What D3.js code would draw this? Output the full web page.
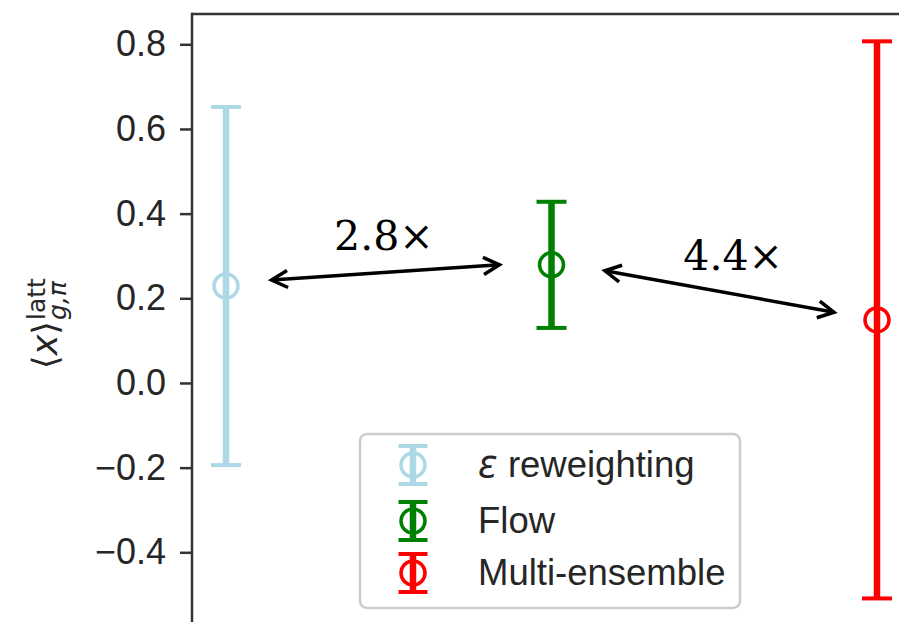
<!DOCTYPE html>
<html>
<head>
<meta charset="utf-8">
<script src="https://cdn.jsdelivr.net/npm/d3@7"></script>
<style>
  html, body { margin: 0; padding: 0; background: #fff; }
  svg { display: block; }
</style>
</head>
<body>
<svg id="chart" width="899" height="622"></svg>
<script>
// ---- data ----
const methods = ["ε reweighting", "Flow", "Multi-ensemble"];
const positions = [0, 1, 2];
const means = [0.229, 0.279, 0.149];
const errors = [0.423, 0.149, 0.658];
const colors = ["#add8e6", "#008000", "#ff0000"];
const yTicks = [-0.4, -0.2, 0.0, 0.2, 0.4, 0.6, 0.8];
// annotation arrows (data coords) and ratio labels
const arrowFrom = [[0.14, 0.243], [1.164, 0.265]];
const arrowTo = [[0.84, 0.279], [1.868, 0.167]];
const ratioLabels = ["2.8×", "4.4×"];
const ratioLabelPos = [[0.485, 0.314], [1.558, 0.267]];

const svg = d3.select("#chart");
const W = 899, H = 622;
const axLeft = 192, axTop = 14;

const x = d3.scaleLinear().domain([0, 2]).range([226, 877]);
const y = d3.scaleLinear().domain([-0.4, 0.8]).range([552.3, 44.3]);

// spines
svg.append("line").attr("x1", axLeft).attr("x2", W + 10).attr("y1", axTop).attr("y2", axTop)
  .attr("stroke", "#333").attr("stroke-width", 2.5);

// y axis
const yAxis = d3.axisLeft(y).tickValues(yTicks).tickFormat(d3.format(".1f"))
  .tickSize(12).tickPadding(14);
const gy = svg.append("g").attr("transform", `translate(${axLeft},0)`).call(yAxis);
gy.select(".domain").remove();
gy.selectAll(".tick line").attr("stroke", "#333").attr("stroke-width", 2.5);
gy.selectAll(".tick text").attr("fill", "#262626")
  .style("font-family", "'Liberation Sans', Arial, sans-serif").style("font-size", "36px");
svg.append("line").attr("x1", axLeft).attr("x2", axLeft).attr("y1", axTop - 1.25).attr("y2", H + 10)
  .attr("stroke", "#333").attr("stroke-width", 2.5);

// y label: <x>^{latt}_{g,pi}
const lab = svg.append("g").attr("transform", "translate(57,369) rotate(-90)")
  .style("font-family", "'DejaVu Sans', sans-serif").attr("fill", "#262626");
const mainLab = lab.append("text").attr("x", 0).attr("y", 0).style("font-size", "35px");
mainLab.append("tspan").text("⟨");
mainLab.append("tspan").style("font-style", "italic").text("x");
mainLab.append("tspan").text("⟩");
const L = mainLab.node().getComputedTextLength();
lab.append("text").attr("x", L + 1).attr("y", -12).style("font-size", "25px").text("latt");
lab.append("text").attr("x", L + 1).attr("y", 9).style("font-size", "25px")
  .style("font-style", "italic").text("g,π");

// error bars
const capHalf = 15, markerR = 12;
const eb = svg.append("g");
positions.forEach((p, i) => {
  const cx = x(p);
  const g = eb.append("g");
  g.append("line").attr("x1", cx).attr("x2", cx)
    .attr("y1", y(means[i] + errors[i])).attr("y2", y(means[i] - errors[i]))
    .attr("stroke", colors[i]).attr("stroke-width", 6.5);
  [means[i] + errors[i], means[i] - errors[i]].forEach(v => {
    g.append("line").attr("x1", cx - capHalf).attr("x2", cx + capHalf)
      .attr("y1", y(v)).attr("y2", y(v)).attr("stroke", colors[i]).attr("stroke-width", 4);
  });
  g.append("circle").attr("cx", cx).attr("cy", y(means[i])).attr("r", markerR)
    .attr("fill", "none").attr("stroke", colors[i]).attr("stroke-width", 3.5);
});

// arrows
const ann = svg.append("g");
function chevron(tip, ang) {
  const hl = 16, hw = 8.5;
  const bx = tip[0] - hl * Math.cos(ang), by = tip[1] - hl * Math.sin(ang);
  const px = -Math.sin(ang) * hw, py = Math.cos(ang) * hw;
  return `M${bx + px},${by + py}L${tip[0]},${tip[1]}L${bx - px},${by - py}`;
}
arrowFrom.forEach((a, i) => {
  const p0 = [x(a[0]), y(a[1])], p1 = [x(arrowTo[i][0]), y(arrowTo[i][1])];
  const ang = Math.atan2(p1[1] - p0[1], p1[0] - p0[0]);
  ann.append("line").attr("x1", p0[0]).attr("y1", p0[1]).attr("x2", p1[0]).attr("y2", p1[1])
    .attr("stroke", "#000").attr("stroke-width", 3.5);
  ann.append("path").attr("d", chevron(p1, ang) + chevron(p0, ang + Math.PI))
    .attr("fill", "none").attr("stroke", "#000").attr("stroke-width", 3.5)
    .attr("stroke-linejoin", "miter");
  ann.append("text").attr("x", x(ratioLabelPos[i][0])).attr("y", y(ratioLabelPos[i][1]))
    .attr("text-anchor", "middle").style("font-family", "'DejaVu Serif', serif")
    .style("font-size", "41px").attr("fill", "#000").text(ratioLabels[i]);
});

// legend
const lg = svg.append("g");
lg.append("rect").attr("x", 360).attr("y", 434).attr("width", 380).attr("height", 174)
  .attr("rx", 7).attr("fill", "#fff").attr("fill-opacity", 0.8)
  .attr("stroke", "#cccccc").attr("stroke-width", 2.5);
const rowY = [465, 521, 573];
methods.forEach((m, i) => {
  const cx = 413, cy = rowY[i];
  lg.append("line").attr("x1", cx).attr("x2", cx).attr("y1", cy - 19).attr("y2", cy + 19)
    .attr("stroke", colors[i]).attr("stroke-width", 6.5);
  [cy - 19, cy + 19].forEach(v => lg.append("line").attr("x1", cx - 14.5).attr("x2", cx + 14.5)
    .attr("y1", v).attr("y2", v).attr("stroke", colors[i]).attr("stroke-width", 4));
  lg.append("circle").attr("cx", cx).attr("cy", cy).attr("r", markerR).attr("fill", "none")
    .attr("stroke", colors[i]).attr("stroke-width", 3.5);
  const t = lg.append("text").attr("x", 478).attr("y", cy + 12).attr("fill", "#262626")
    .style("font-family", "'Liberation Sans', Arial, sans-serif").style("font-size", "36.5px");
  if (m.startsWith("ε")) {
    t.append("tspan").style("font-family", "'DejaVu Sans', sans-serif").style("font-style", "italic").text("ε");
    t.append("tspan").text(m.slice(1));
  } else {
    t.text(m);
  }
});
</script>
</body>
</html>
